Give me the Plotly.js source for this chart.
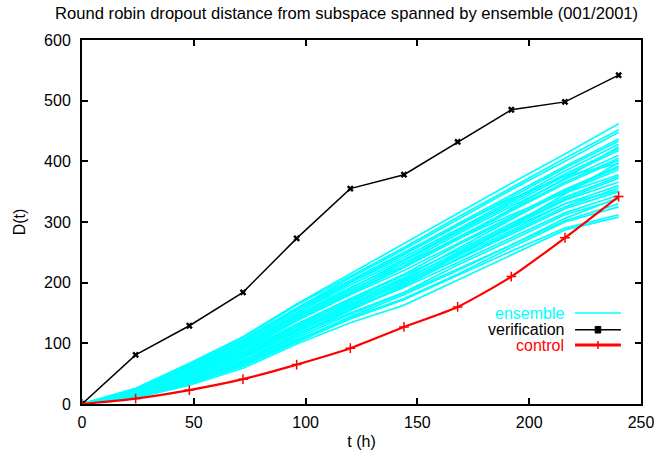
<!DOCTYPE html>
<html>
<head>
<meta charset="utf-8">
<script src="https://cdn.plot.ly/plotly-3.0.1.min.js"></script>
<style>
  html, body { margin: 0; padding: 0; background: #fff; }
  #chart { width: 654px; height: 456px; }
</style>
</head>
<body>
<div id="chart"></div>
<script>
// Forecast lead times (hours)
const hours = [0, 24, 48, 72, 96, 120, 144, 168, 192, 216, 240];

// Dropout distance of the verifying analysis
const verification = [0, 81, 129, 184, 273, 355, 378, 432, 485, 498, 542];

// Dropout distance of the control forecast
const control = [0, 9, 23, 41, 65, 92, 127, 160, 210, 274, 342];

// Dropout distance of each ensemble member (values after t = 0)
const ensemble = [
  [10, 31, 59, 99, 134, 163, 204, 246, 287, 308],
  [11, 33, 62, 102, 140, 172, 212, 252, 290, 312],
  [12, 36, 66, 106, 142, 174, 214, 258, 300, 325],
  [12, 38, 68, 109, 148, 183, 222, 262, 302, 330],
  [13, 39, 71, 114, 150, 184, 229, 270, 312, 338],
  [14, 40, 72, 115, 156, 192, 233, 274, 315, 344],
  [15, 43, 76, 120, 158, 194, 240, 283, 325, 356],
  [16, 45, 78, 122, 164, 202, 244, 286, 330, 360],
  [16, 46, 81, 127, 166, 204, 250, 295, 338, 372],
  [17, 47, 82, 128, 172, 212, 253, 298, 341, 375],
  [18, 50, 86, 132, 174, 214, 262, 306, 350, 386],
  [19, 51, 87, 137, 180, 220, 264, 309, 354, 392],
  [20, 54, 91, 138, 182, 225, 271, 318, 363, 402],
  [20, 54, 94, 143, 188, 228, 275, 320, 366, 405],
  [21, 57, 95, 145, 190, 236, 283, 330, 376, 418],
  [22, 57, 99, 150, 196, 238, 286, 333, 379, 421],
  [23, 60, 100, 151, 200, 246, 293, 341, 389, 433],
  [23, 61, 104, 156, 202, 248, 297, 345, 392, 437],
  [24, 63, 105, 158, 208, 255, 304, 353, 400, 448],
  [25, 65, 109, 163, 210, 258, 308, 357, 405, 452],
  [26, 67, 111, 165, 215, 264, 314, 364, 412, 462],
  [14, 42, 75, 118, 160, 200, 246, 292, 336, 366],
  [18, 49, 84, 130, 170, 206, 248, 290, 330, 352],
  [22, 58, 97, 147, 192, 232, 272, 312, 348, 378],
  [13, 38, 69, 112, 154, 196, 244, 294, 346, 398],
  [19, 52, 90, 140, 186, 232, 280, 326, 370, 410],
  [25, 64, 106, 158, 204, 250, 296, 338, 376, 396],
  [15, 44, 77, 121, 162, 198, 238, 280, 322, 350],
  [20, 53, 92, 141, 184, 226, 272, 322, 372, 424],
  [11, 34, 64, 104, 144, 180, 220, 262, 306, 340],
  [24, 62, 103, 154, 200, 242, 288, 336, 384, 428],
  [17, 46, 80, 124, 168, 208, 256, 304, 352, 390]
];

const xTicks = [0, 50, 100, 150, 200, 250];
const yTicks = [0, 100, 200, 300, 400, 500, 600];

const CYAN = '#00ffff';
const FONT = 'Liberation Sans, Arial, Helvetica, sans-serif';
const FS = 16;

const traces = [];

ensemble.forEach(member => {
  traces.push({
    x: hours,
    y: [0].concat(member),
    mode: 'lines',
    line: { color: CYAN, width: 1.7 },
    hoverinfo: 'skip',
    showlegend: false
  });
});

traces.push({
  x: hours,
  y: verification,
  mode: 'lines+markers',
  line: { color: '#000000', width: 1.5 },
  marker: { symbol: 'x', size: 6, color: '#000000' },
  showlegend: false
});

traces.push({
  x: hours,
  y: control,
  mode: 'lines+markers',
  line: { color: '#ff0000', width: 2.2, shape: 'spline', smoothing: 0.6 },
  marker: { symbol: 'cross-thin-open', size: 7, line: { color: '#ff0000', width: 1.5 } },
  showlegend: false
});

// gnuplot-style key: right-aligned labels with sample lines to their right
const key = [
  { label: 'ensemble', color: CYAN, width: 1.5, y: 0.250, mark: null },
  { label: 'verification', color: '#000000', width: 1.5, y: 0.204, mark: 'box' },
  { label: 'control', color: '#ff0000', width: 3, y: 0.162, mark: 'plus' }
];
const keyTextX = 0.866, keyLine0 = 0.882, keyLine1 = 0.964, keyMid = 0.923;

const annotations = key.map(k => ({
  xref: 'paper', yref: 'paper', x: keyTextX, y: k.y,
  xanchor: 'right', yanchor: 'middle', showarrow: false,
  text: k.label, font: { family: FONT, size: FS, color: k.color }
}));

const shapes = [];
key.forEach(k => {
  shapes.push({ type: 'line', xref: 'paper', yref: 'paper',
    x0: keyLine0, x1: keyLine1, y0: k.y, y1: k.y,
    line: { color: k.color, width: k.width } });
  if (k.mark === 'box') {
    shapes.push({ type: 'rect', xref: 'paper', yref: 'paper',
      x0: keyMid - 0.005, x1: keyMid + 0.005, y0: k.y - 0.009, y1: k.y + 0.009,
      fillcolor: k.color, line: { color: k.color, width: 1 } });
  } else if (k.mark === 'plus') {
    shapes.push({ type: 'line', xref: 'paper', yref: 'paper',
      x0: keyMid, x1: keyMid, y0: k.y - 0.011, y1: k.y + 0.011,
      line: { color: k.color, width: 1.5 } });
  }
});

const layout = {
  width: 654,
  height: 456,
  margin: { l: 82, r: 13, t: 40, b: 52, pad: 0 },
  paper_bgcolor: '#ffffff',
  plot_bgcolor: '#ffffff',
  font: { family: FONT, size: FS, color: '#000000' },
  title: {
    text: 'Round robin dropout distance from subspace spanned by ensemble (001/2001)',
    font: { family: FONT, size: 16.6, color: '#000000' },
    x: 0.53, xanchor: 'center', y: 0.97, yanchor: 'middle'
  },
  xaxis: {
    range: [0, 250],
    tickvals: xTicks,
    ticktext: xTicks.map(String),
    ticks: 'inside', ticklen: 6, tickwidth: 2, tickcolor: '#000',
    showline: true, linecolor: '#000', linewidth: 2, mirror: 'allticks',
    showgrid: false, zeroline: false,
    ticklabelstandoff: 3,
    ticklabeloverflow: 'allow',
    tickfont: { family: FONT, size: FS },
    title: { text: 't (h)', font: { family: FONT, size: FS }, standoff: 6 }
  },
  yaxis: {
    range: [0, 600],
    tickvals: yTicks,
    ticktext: yTicks.map(String),
    ticks: 'inside', ticklen: 6, tickwidth: 2, tickcolor: '#000',
    showline: true, linecolor: '#000', linewidth: 2, mirror: 'allticks',
    showgrid: false, zeroline: false,
    ticklabelstandoff: 6,
    ticklabeloverflow: 'allow',
    tickfont: { family: FONT, size: FS },
    title: { text: 'D(t)', font: { family: FONT, size: FS }, standoff: 14 }
  },
  annotations: annotations,
  shapes: shapes,
  showlegend: false
};

Plotly.newPlot('chart', traces, layout, { displayModeBar: false, staticPlot: true });
</script>
</body>
</html>
